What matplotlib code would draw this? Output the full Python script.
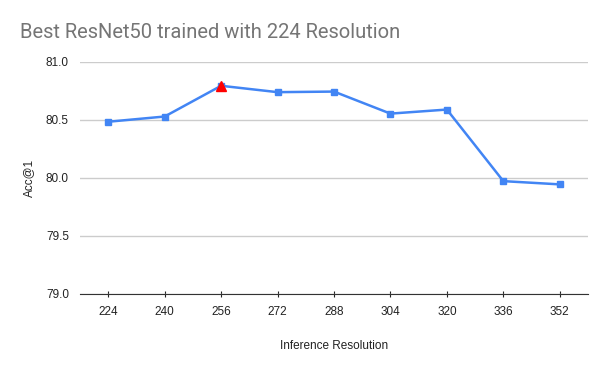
import matplotlib.pyplot as plt

resolutions = ['224', '240', '256', '272', '288', '304', '320', '336', '352']
acc1 = [80.485, 80.53, 80.795, 80.74, 80.745, 80.555, 80.59, 79.973, 79.945]
best_idx = 2

plt.rcParams['font.family'] = ['Liberation Sans', 'DejaVu Sans']

fig = plt.figure(figsize=(6, 3.71), dpi=100)
ax = fig.add_axes([80 / 600, 77 / 371, 508 / 600, 232 / 371])

x = list(range(len(resolutions)))
ax.plot(x, acc1, color='#4285F4', linewidth=1.8, marker='s', markersize=5,
        markerfacecolor='#4285F4', markeredgecolor='#4285F4', zorder=3)
# highlight best point
ax.plot(x[best_idx], acc1[best_idx], marker='^', markersize=7.5, color='#FF0000',
        linestyle='none', zorder=4)

ax.set_xlim(-0.5, 8.5)
ax.set_ylim(79.0, 81.0)
ax.set_yticks([79.0, 79.5, 80.0, 80.5, 81.0])
ax.set_yticklabels(['79.0', '79.5', '80.0', '80.5', '81.0'])
ax.set_xticks(x)
ax.set_xticklabels(resolutions)

ax.grid(axis='y', color='#cccccc', linewidth=1)
ax.set_axisbelow(True)
for s in ['top', 'right', 'left']:
    ax.spines[s].set_visible(False)
ax.spines['bottom'].set_color('#333333')
ax.tick_params(axis='y', length=0, labelsize=8.5, colors='#222222', pad=8)
ax.tick_params(axis='x', length=5, direction='inout', labelsize=8.5,
               colors='#222222', pad=6)

ax.set_xlabel('Inference Resolution', fontsize=8.5, color='#222222', labelpad=16)
ax.set_ylabel('Acc@1', fontsize=8.5, color='#222222', labelpad=8)

fig.text(20 / 600, 1 - 32 / 371, 'Best ResNet50 trained with 224 Resolution',
         fontsize=14.5, color='#757575', va='center', ha='left',
         family=['Roboto', 'DejaVu Sans'])

fig.savefig('out.png', dpi=100, facecolor='white')
